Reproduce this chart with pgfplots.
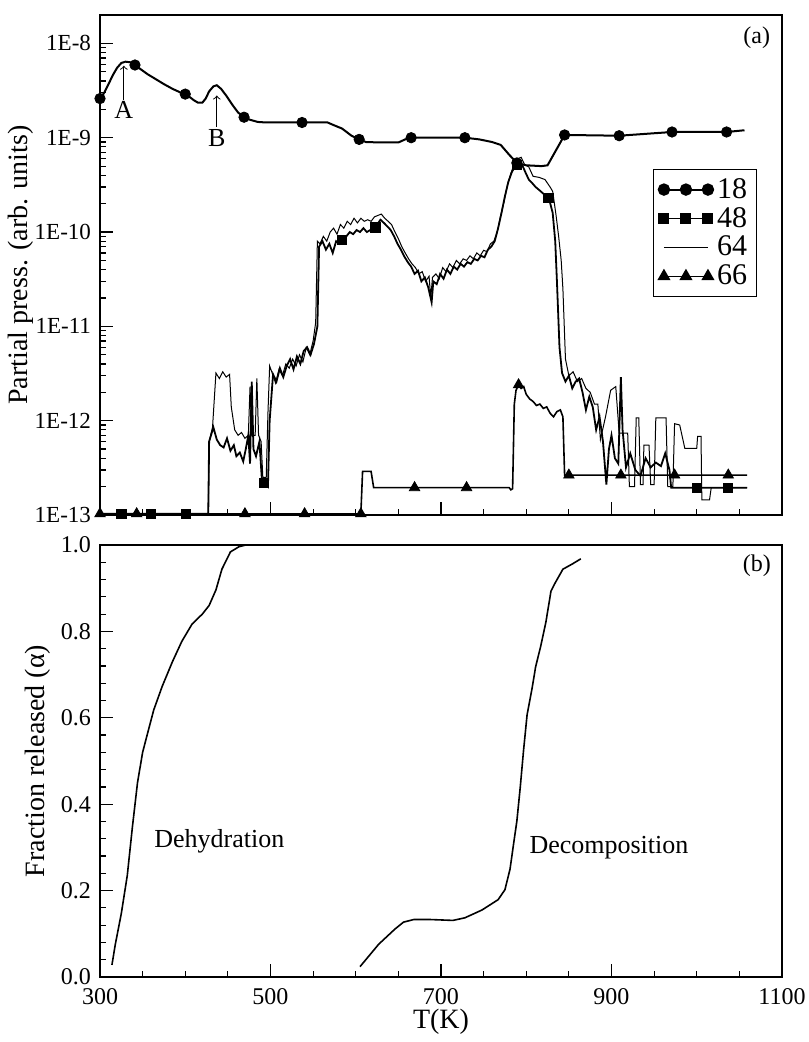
\documentclass[border=0pt]{standalone}
\usepackage{fontspec}
\setmainfont{Liberation Serif}
\usepackage{pgfplots}
\pgfplotsset{compat=1.18}
\usetikzlibrary{calc}

\pgfplotstableread{
T v
300 2.6e-9
305 3.0e-9
310 3.7e-9
315 4.6e-9
320 5.5e-9
325 6.2e-9
330 6.4e-9
336 6.3e-9
341 5.9e-9
348 5.3e-9
356 4.7e-9
365 4.2e-9
375 3.7e-9
385 3.3e-9
395 3.0e-9
403 2.8e-9
410 2.5e-9
415 2.35e-9
420 2.35e-9
424 2.6e-9
428 3.1e-9
433 3.5e-9
437 3.6e-9
442 3.3e-9
448 2.8e-9
455 2.25e-9
462 1.85e-9
469 1.65e-9
476 1.55e-9
485 1.47e-9
495 1.45e-9
567 1.45e-9
575 1.35e-9
584 1.25e-9
595 1.05e-9
604 9.6e-10
612 9.0e-10
630 8.9e-10
650 8.9e-10
658 9.6e-10
665 1.0e-9
728 1.0e-9
745 9.6e-10
760 9.0e-10
770 8.4e-10
780 6.6e-10
789 5.4e-10
800 5.1e-10
818 5.0e-10
825 5.1e-10
845 1.07e-9
909 1.05e-9
971 1.15e-9
1035 1.15e-9
1056 1.2e-9
}\tabA

\pgfplotstableread{
T v
300 1.03e-13
427 1.03e-13
428 6e-13
433 8.5e-13
437 6.3e-13
441 5.5e-13
445 5.2e-13
449 6.5e-13
453 4.8e-13
457 5.5e-13
460 4.2e-13
464 4.6e-13
468 3.7e-13
471 5.0e-13
474 7.0e-13
476 3.5e-13
478 2.6e-12
480 5e-13
483 4.2e-13
487 6e-13
490 2.3e-13
497 2.0e-13
499 1.0e-12
503 3.1e-12
507 2.6e-12
511 3.6e-12
515 2.9e-12
519 3.8e-12
523 4.5e-12
527 3.5e-12
531 4.8e-12
535 4.0e-12
539 5.5e-12
543 6.0e-12
547 5.0e-12
551 6.5e-12
555 1.0e-11
557 7.0e-11
561 8.0e-11
565 6.5e-11
569 7.5e-11
573 6.0e-11
577 8.0e-11
581 7.5e-11
585 8.5e-11
589 9.0e-11
593 1.0e-10
597 9.5e-11
601 1.05e-10
605 1.0e-10
609 1.1e-10
613 1.0e-10
617 1.05e-10
621 1.1e-10
625 1.2e-10
629 1.35e-10
633 1.25e-10
637 1.15e-10
641 1.05e-10
645 9.0e-11
649 7.5e-11
653 6.5e-11
657 5.5e-11
661 4.8e-11
665 4.3e-11
669 3.6e-11
673 3.9e-11
677 3.0e-11
681 3.3e-11
685 2.6e-11
689 1.8e-11
691 3.0e-11
695 2.8e-11
699 3.6e-11
703 3.2e-11
707 4.0e-11
711 3.6e-11
715 4.3e-11
719 4.0e-11
723 4.6e-11
727 4.3e-11
731 4.8e-11
735 4.6e-11
739 5.2e-11
743 5.0e-11
747 5.6e-11
751 5.4e-11
755 6.5e-11
759 7.0e-11
763 8.0e-11
767 1.1e-10
771 1.6e-10
775 2.4e-10
779 3.4e-10
783 4.3e-10
787 5.0e-10
791 5.3e-10
795 5.2e-10
799 4.3e-10
803 3.6e-10
807 3.3e-10
811 3.0e-10
815 2.8e-10
819 2.6e-10
823 2.4e-10
827 2.2e-10
831 1.6e-10
834 8e-11
836 3e-11
839 6e-12
842 3.2e-12
846 2.6e-12
850 3.0e-12
854 2.2e-12
858 2.6e-12
862 2.8e-12
866 2.0e-12
870 1.3e-12
874 1.8e-12
878 1.4e-12
882 8e-13
886 1.1e-12
890 6e-13
894 2.1e-13
897 5e-13
900 7e-13
904 4e-13
908 3.5e-13
911 2.9e-12
913 8e-13
917 3.2e-13
922 4.5e-13
928 3.0e-13
934 2.6e-13
940 4.0e-13
946 3.2e-13
952 3.6e-13
958 3.3e-13
963 4.5e-13
968 3.0e-13
970 1.95e-13
1059 1.95e-13
}\tabB

\pgfplotstableread{
T v
300 1.03e-13
427 1.03e-13
428 6e-13
432 8.5e-13
436 3.2e-12
440 2.8e-12
444 3.3e-12
448 2.9e-12
452 3.1e-12
454 1.4e-12
458 8e-13
462 7e-13
466 7.5e-13
470 6.5e-13
474 7e-13
476 2.3e-12
478 7e-13
482 7e-13
484 2.8e-12
486 7e-13
489 6e-13
491 2.5e-13
495 2.5e-13
497 1.2e-12
499 3.8e-12
502 3.2e-12
506 2.5e-12
510 3.5e-12
514 3.0e-12
518 4.0e-12
522 3.6e-12
526 4.5e-12
530 3.8e-12
534 5.0e-12
538 4.2e-12
542 6.0e-12
546 5.0e-12
550 7.0e-12
553 1.1e-11
555 8.0e-11
558 7.5e-11
562 9.0e-11
566 8.0e-11
570 1.0e-10
574 1.1e-10
578 9.5e-11
582 1.2e-10
586 1.1e-10
590 1.3e-10
594 1.2e-10
598 1.4e-10
602 1.25e-10
606 1.4e-10
610 1.3e-10
614 1.35e-10
618 1.3e-10
622 1.45e-10
626 1.5e-10
630 1.55e-10
634 1.4e-10
638 1.3e-10
642 1.2e-10
646 1.0e-10
650 8.5e-11
654 7e-11
658 6e-11
662 5.2e-11
666 4.6e-11
670 4.2e-11
674 3.6e-11
678 3.8e-11
682 3.0e-11
686 3.4e-11
688 2.0e-11
690 3.3e-11
694 3.6e-11
698 3.2e-11
702 4.2e-11
706 3.8e-11
710 4.6e-11
714 4.2e-11
718 5.0e-11
722 4.6e-11
726 5.2e-11
730 5.0e-11
734 5.6e-11
738 5.2e-11
742 6.0e-11
746 5.6e-11
750 6.4e-11
754 6.2e-11
758 7.5e-11
762 8.0e-11
766 1.0e-10
770 1.5e-10
774 2.1e-10
778 3.2e-10
782 4.2e-10
786 5.3e-10
790 6.0e-10
794 6.2e-10
798 5.2e-10
803 4.9e-10
808 3.9e-10
815 3.8e-10
822 3.6e-10
828 3.0e-10
831 2.7e-10
835 1.5e-10
838 9e-11
841 5e-11
843 2.5e-11
846 4.5e-12
850 3.0e-12
855 3.3e-12
860 2.6e-12
865 2.8e-12
870 2.2e-12
875 2.0e-12
880 1.5e-12
884 1.5e-12
887 6.3e-13
893 1.1e-12
899 2.1e-12
905 2.3e-12
909 7.4e-13
919 7.4e-13
921 2.0e-13
927 2.0e-13
929 1.07e-12
932 1.07e-12
934 2.1e-13
937 2.1e-13
938 5.5e-13
944 5.5e-13
946 2.1e-13
950 2.1e-13
952 1.07e-12
964 1.07e-12
966 2.0e-13
972 2.0e-13
974 9.3e-13
980 9.0e-13
986 5.1e-13
1000 5.1e-13
1001 6.8e-13
1005 6.8e-13
1006 1.45e-13
1015 1.45e-13
1017 1.95e-13
1059 1.95e-13
}\tabC

\pgfplotstableread{
T v
300 1.03e-13
606 1.03e-13
608 2.9e-13
618 2.9e-13
621 1.95e-13
780 1.95e-13
782 1.85e-13
784 1.9e-13
786 1.5e-12
788 2.1e-12
791 2.4e-12
794 2.2e-12
797 2.3e-12
800 1.9e-12
804 1.7e-12
808 1.6e-12
812 1.45e-12
816 1.5e-12
820 1.35e-12
824 1.4e-12
828 1.2e-12
832 1.1e-12
836 1.25e-12
840 1.3e-12
843 1.1e-12
845 2.65e-13
1059 2.65e-13
}\tabD

\pgfplotstableread{
T a
314 0.028
318 0.076
325 0.147
332 0.235
338 0.347
344 0.45
350 0.52
355 0.558
363 0.618
373 0.673
385 0.73
396 0.777
408 0.817
420 0.84
428 0.86
436 0.896
443 0.944
453 0.984
463 0.996
471 1.0
600 1.0
}\tabE

\pgfplotstableread{
T a
605 0.024
627 0.076
646 0.111
656 0.127
668 0.133
688 0.133
714 0.131
728 0.137
748 0.155
767 0.179
775 0.202
781 0.25
785 0.306
789 0.361
793 0.44
797 0.528
801 0.607
807 0.67
811 0.718
817 0.766
823 0.821
829 0.893
833 0.909
843 0.944
854 0.956
864 0.968
}\tabF

\begin{document}
\begin{tikzpicture}
\pgfplotsset{
  every axis/.append style={
    scale only axis, width=341pt,
    xmin=300, xmax=1100,
    xtick={300,500,700,900,1100}, minor x tick num=3,
    tick pos=left,
    major tick length=6.5pt, minor tick length=3pt,
    axis line style={line width=0.8pt},
    every tick/.style={line width=0.6pt, black},
    ticklabel style={font=\fontsize{12}{14}\selectfont},
    yticklabel style={xshift=-1pt},
    xticklabel style={yshift=-2pt},
    label style={font=\fontsize{14}{16}\selectfont},
    clip mode=individual,
  }
}
\begin{axis}[
  name=top, height=250pt,
  ymode=log, ymin=1e-13, ymax=2e-8,
  xticklabels={},
  ytick={1e-13,1e-12,1e-11,1e-10,1e-9,1e-8},
  yticklabels={1E-13,1E-12,1E-11,1E-10,1E-9,1E-8},
  yticklabel style={font=\fontsize{11.5}{13}\selectfont},
  ylabel={Partial press. (arb. units)},
  ylabel style={at={(axis description cs:-0.087,0.5)}, anchor=south},
  legend style={at={(0.963,0.693)}, anchor=north east, draw=black, line width=0.6pt,
    font=\fontsize{15}{17}\selectfont, row sep=-1pt, inner sep=2.5pt},
  legend cell align=left,
  legend image code/.code={\draw[#1] plot coordinates {(0pt,0pt) (11pt,0pt) (22pt,0pt)};},
]
\addplot[black, line width=1pt, forget plot] table[x=T,y=v] {\tabA};
\addplot[black, only marks, mark=*, mark size=2.6pt, forget plot] coordinates {
(300,2.6e-9) (341,5.9e-9) (400,2.9e-9) (469,1.65e-9) (537,1.45e-9) (604,9.6e-10)
(665,1.0e-9) (728,1.0e-9) (789,5.4e-10) (845,1.07e-9) (909,1.05e-9) (971,1.15e-9) (1035,1.15e-9)};
\addplot[black, line width=0.9pt, forget plot] table[x=T,y=v] {\tabB};
\addplot[black, only marks, mark=square*, mark size=2.3pt, forget plot] coordinates {
(325,1.03e-13) (360,1.03e-13) (401,1.03e-13) (492,2.2e-13) (584,8.3e-11) (623,1.12e-10)
(789,5.2e-10) (826,2.3e-10) (1000,1.95e-13) (1037,1.95e-13)};
\addplot[black, line width=0.5pt, forget plot] table[x=T,y=v] {\tabC};
\addplot[black, line width=0.8pt, forget plot] table[x=T,y=v] {\tabD};
\addplot[black, only marks, mark=triangle*, mark size=3pt, forget plot] coordinates {
(300,1.03e-13) (343,1.03e-13) (470,1.03e-13) (540,1.03e-13) (606,1.03e-13)
(669,1.95e-13) (730,1.95e-13) (791,2.4e-12) (850,2.65e-13) (911,2.65e-13) (974,2.65e-13) (1037,2.65e-13)};
\addlegendimage{black, line width=1pt, mark=*, mark size=2.6pt}
\addlegendentry{18}
\addlegendimage{black, line width=0.9pt, mark=square*, mark size=2.3pt}
\addlegendentry{48}
\addlegendimage{black, line width=0.5pt}
\addlegendentry{64}
\addlegendimage{black, line width=0.8pt, mark=triangle*, mark size=3pt}
\addlegendentry{66}
\node[font=\fontsize{13}{15}\selectfont] at (axis cs:328,1.95e-9) {A};
\draw[->, line width=0.5pt] (axis cs:328,2.5e-9) -- (axis cs:328,5.8e-9);
\node[font=\fontsize{13}{15}\selectfont] at (axis cs:437,1.0e-9) {B};
\draw[->, line width=0.5pt] (axis cs:437,1.3e-9) -- (axis cs:437,2.8e-9);
\node[font=\fontsize{12}{14}\selectfont] at (rel axis cs:0.963,0.955) {(a)};
\end{axis}

\begin{axis}[
  name=bot, height=216pt,
  at={($(top.south west)+(0,-15pt)$)}, anchor=north west,
  ymin=0, ymax=1,
  xticklabels={300,500,700,900,1100},
  ytick={0,0.2,0.4,0.6,0.8,1.0},
  yticklabels={0.0,0.2,0.4,0.6,0.8,1.0},
  minor y tick num=4,
  xlabel={T(K)},
  ylabel={Fraction released (α)},
  ylabel style={at={(axis description cs:-0.062,0.5)}, anchor=south},
  xlabel style={yshift=4.5pt},
]
\addplot[black, line width=0.8pt] table[x=T,y=a] {\tabE};
\addplot[black, line width=0.8pt] table[x=T,y=a] {\tabF};
\node[font=\fontsize{13}{15}\selectfont] at (axis cs:440,0.315) {Dehydration};
\node[font=\fontsize{13}{15}\selectfont] at (axis cs:897,0.30) {Decomposition};
\node[font=\fontsize{12}{14}\selectfont] at (rel axis cs:0.963,0.952) {(b)};
\end{axis}
\pgfresetboundingbox
\path ($(top.north west)+(-50pt,7.5pt)$) rectangle ($(bot.south east)+(13.5pt,-32.5pt)$);
\end{tikzpicture}
\end{document}
